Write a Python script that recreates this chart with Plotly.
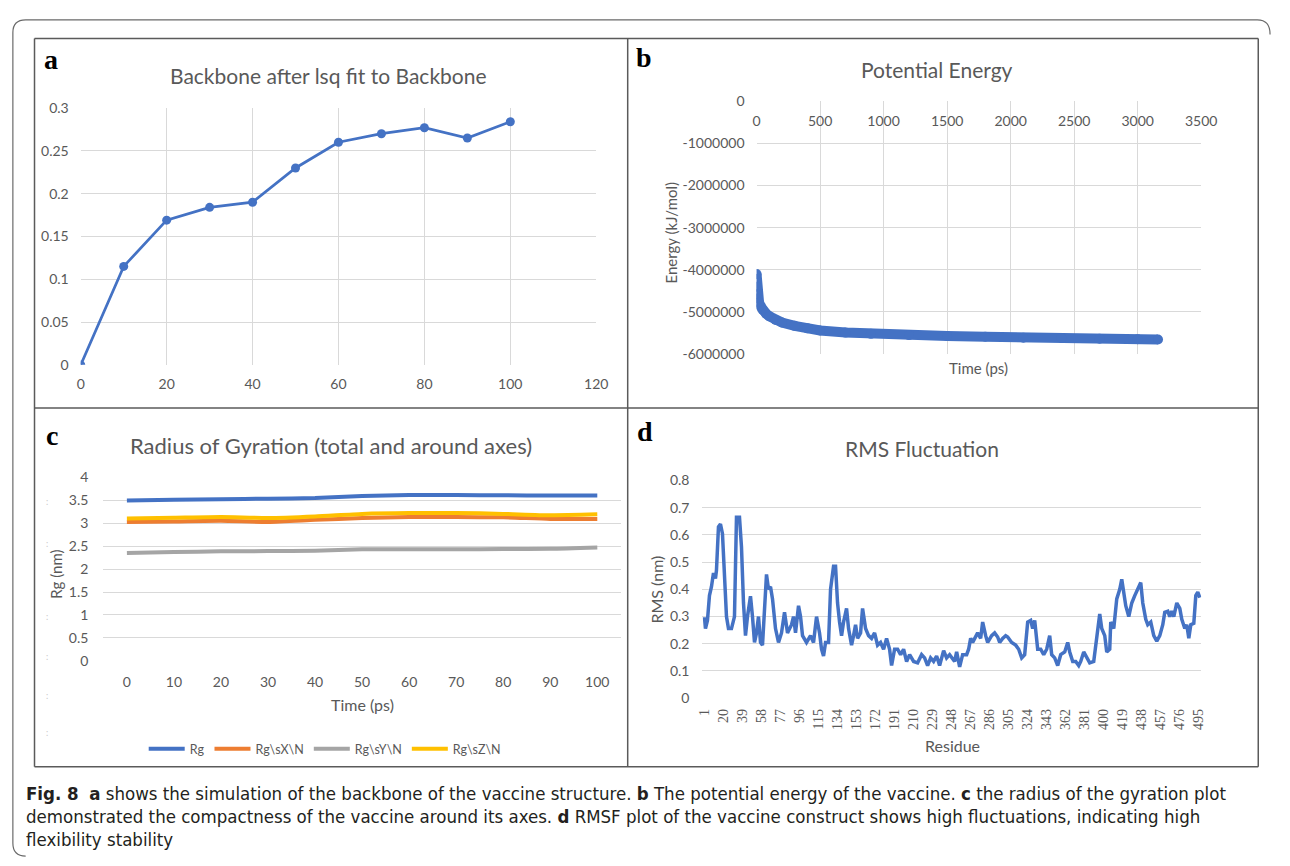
import plotly.graph_objects as go

W, H = 1290, 866


def px(x):
    return x / W


def py(y):
    return 1 - y / H


# ---------------- data ----------------
# (a) Backbone RMSD
a_time = [0, 10, 20, 30, 40, 50, 60, 70, 80, 90, 100]
a_rmsd = [0.0, 0.115, 0.169, 0.184, 0.19, 0.23, 0.26, 0.27, 0.277, 0.265, 0.284]

# (b) Potential energy
b_time = [0, 2, 5, 10, 20, 35, 50, 75, 100, 150, 200, 300, 400, 500, 700, 900,
          1200, 1500, 1800, 2100, 2400, 2700, 3000, 3160]
b_energy = [-4100000, -4400000, -4580000, -4680000, -4780000, -4880000, -4960000,
            -5040000, -5100000, -5190000, -5250000, -5330000, -5390000, -5440000,
            -5490000, -5520000, -5550000, -5570000, -5590000, -5610000, -5620000,
            -5635000, -5650000, -5655000]
b_yticks = [0, -1000000, -2000000, -3000000, -4000000, -5000000, -6000000]
b_yticklabels = ["0", "-1000000", "-2000000", "-3000000", "-4000000", "-5000000", "-6000000"]

# (c) Radius of gyration
c_time = [0, 10, 20, 30, 40, 50, 60, 70, 80, 90, 100]
c_rg = [3.49, 3.51, 3.52, 3.53, 3.545, 3.59, 3.61, 3.61, 3.605, 3.6, 3.6]
c_rgx = [3.025, 3.035, 3.05, 3.025, 3.07, 3.11, 3.13, 3.13, 3.125, 3.09, 3.09]
c_rgy = [2.35, 2.37, 2.385, 2.39, 2.4, 2.43, 2.43, 2.43, 2.435, 2.44, 2.47]
c_rgz = [3.1, 3.115, 3.13, 3.11, 3.145, 3.2, 3.22, 3.22, 3.2, 3.17, 3.19]
c_names = ["Rg", "Rg\\sX\\N", "Rg\\sY\\N", "Rg\\sZ\\N"]

# (d) RMS fluctuation
d_res = [1, 2, 4, 6, 8, 10, 12, 13, 15, 17, 19, 21, 23, 25, 28, 31, 33, 36, 38, 40,
         42, 44, 47, 49, 51, 53, 55, 57, 59, 63, 65, 67, 69, 72, 75, 78, 81, 84, 88, 90,
         92, 95, 97, 99, 103, 107, 110, 113, 116, 118, 120, 122, 125, 127, 130, 132, 134, 136, 138, 140,
         143, 145, 148, 150, 152, 154, 157, 159, 162, 165, 168, 171, 174, 177, 180, 183, 186, 188, 191, 194,
         197, 200, 203, 206, 210, 214, 218, 221, 224, 227, 230, 233, 236, 240, 243, 246, 251, 253, 256, 259,
         263, 265, 267, 269, 272, 274, 277, 279, 282, 284, 288, 291, 294, 296, 299, 302, 304, 308, 312, 315,
         318, 321, 324, 327, 329, 331, 334, 337, 340, 343, 346, 348, 351, 354, 357, 361, 364, 366, 369, 372,
         375, 377, 380, 383, 386, 390, 393, 396, 398, 401, 403, 406, 407, 410, 413, 416, 418, 420, 422, 425,
         428, 431, 435, 437, 439, 442, 444, 447, 450, 453, 456, 459, 461, 464, 466, 468, 470, 473, 476, 478,
         481, 483, 485, 487, 490, 492, 494, 496]
d_rms = [0.298, 0.256, 0.286, 0.377, 0.41, 0.46, 0.44, 0.47, 0.63, 0.64, 0.605, 0.47, 0.30, 0.256, 0.256, 0.30, 0.665, 0.665, 0.555, 0.35,
         0.23, 0.30, 0.375, 0.30, 0.205, 0.24, 0.30, 0.205, 0.195, 0.455, 0.40, 0.41, 0.365, 0.256, 0.205, 0.24, 0.316, 0.24, 0.27, 0.30,
         0.24, 0.34, 0.30, 0.23, 0.205, 0.23, 0.205, 0.30, 0.24, 0.18, 0.155, 0.205, 0.205, 0.40, 0.485, 0.485, 0.35, 0.28, 0.23, 0.28,
         0.33, 0.256, 0.195, 0.23, 0.27, 0.22, 0.24, 0.33, 0.256, 0.23, 0.22, 0.24, 0.195, 0.205, 0.18, 0.22, 0.18, 0.12, 0.18, 0.18,
         0.16, 0.18, 0.135, 0.16, 0.135, 0.13, 0.16, 0.148, 0.12, 0.148, 0.135, 0.155, 0.12, 0.175, 0.148, 0.16, 0.135, 0.17, 0.115, 0.16,
         0.16, 0.18, 0.22, 0.205, 0.23, 0.24, 0.22, 0.28, 0.23, 0.205, 0.23, 0.24, 0.225, 0.205, 0.22, 0.23, 0.225, 0.205, 0.195, 0.18,
         0.148, 0.16, 0.28, 0.286, 0.256, 0.286, 0.18, 0.18, 0.16, 0.18, 0.23, 0.16, 0.148, 0.12, 0.16, 0.17, 0.205, 0.17, 0.135, 0.135,
         0.12, 0.135, 0.17, 0.148, 0.13, 0.135, 0.23, 0.31, 0.256, 0.23, 0.17, 0.18, 0.28, 0.256, 0.365, 0.40, 0.437, 0.377, 0.34, 0.30,
         0.35, 0.377, 0.41, 0.425, 0.35, 0.29, 0.27, 0.28, 0.23, 0.21, 0.23, 0.27, 0.316, 0.32, 0.30, 0.32, 0.30, 0.35, 0.33, 0.29,
         0.256, 0.27, 0.22, 0.27, 0.275, 0.377, 0.39, 0.37]
d_ticks = [1, 20, 39, 58, 77, 96, 115, 134, 153, 172, 191, 210, 229, 248, 267, 286, 305,
           324, 343, 362, 381, 400, 419, 438, 457, 476, 495]
d_ticklabels = [str(v) for v in d_ticks]

# ---------------- style ----------------
BLUE = "#4472C4"
ORANGE = "#ED7D31"
GRAY = "#A5A5A5"
GOLD = "#FFC000"
GRID = "#d9d9d9"
TXT = "#595959"
SANS = "Lato, Carlito, sans-serif"
tickf = dict(family=SANS, size=14, color=TXT)

fig = go.Figure()

fig.add_trace(go.Scatter(x=a_time, y=a_rmsd, mode="lines+markers", xaxis="x", yaxis="y",
                         line=dict(color=BLUE, width=2.75), marker=dict(color=BLUE, size=9),
                         showlegend=False))

fig.add_trace(go.Scatter(x=b_time, y=b_energy, mode="lines+markers", xaxis="x2", yaxis="y2",
                         line=dict(color=BLUE, width=10), marker=dict(color=BLUE, size=10),
                         showlegend=False))

for ys, col, nm in zip([c_rg, c_rgx, c_rgy, c_rgz], [BLUE, ORANGE, GRAY, GOLD], c_names):
    fig.add_trace(go.Scatter(x=c_time, y=ys, mode="lines", xaxis="x3", yaxis="y3", name=nm,
                             line=dict(color=col, width=4, shape="spline", smoothing=0.6)))

fig.add_trace(go.Scatter(x=d_res, y=d_rms, mode="lines", xaxis="x4", yaxis="y4",
                         line=dict(color=BLUE, width=3.5), showlegend=False))

common = dict(showline=False, ticks="", zeroline=False, tickfont=tickf, gridcolor=GRID,
              gridwidth=1, fixedrange=True)

fig.update_layout(
    width=W, height=H, margin=dict(l=0, r=0, t=0, b=0),
    paper_bgcolor="white", plot_bgcolor="white",
    xaxis=dict(domain=[px(77), px(601)], range=[0, 120], dtick=20, tick0=0, anchor="y",
               showgrid=True, ticklabelstandoff=9, **common),
    yaxis=dict(domain=[py(363), py(101)], range=[0, 0.3], dtick=0.05, tick0=0, anchor="x",
               showgrid=True, ticklabelstandoff=11, **common),
    xaxis2=dict(domain=[px(764), px(1216)], range=[0, 3500], dtick=500, tick0=0, anchor="y2",
                side="top", ticklabelposition="inside", ticklabeloverflow="allow",
                showgrid=True, ticklabelstandoff=12, **common),
    yaxis2=dict(domain=[py(352), py(94)], range=[-6000000, 0], tickvals=b_yticks,
                ticktext=b_yticklabels, anchor="x2", showgrid=True, ticklabelstandoff=11, **common),
    xaxis3=dict(domain=[px(100), px(626)], range=[-5, 105], dtick=10, tick0=0, anchor="y3",
                showgrid=False, ticklabelstandoff=11, **common),
    yaxis3=dict(domain=[py(665), py(477.5)], range=[0, 4], dtick=0.5, tick0=0, anchor="x3",
                showgrid=True, ticklabelstandoff=14, **common),
    xaxis4=dict(domain=[px(709), px(1216)], range=[-1, 497.4], tickvals=d_ticks,
                ticktext=d_ticklabels, tickangle=-90, anchor="y4", showgrid=False,
                ticklabelstandoff=7,
                **{k: v for k, v in common.items() if k != "tickfont"},
                tickfont=dict(family="Liberation Serif, serif", size=14, color=TXT)),
    yaxis4=dict(domain=[py(703), py(481)], range=[0, 0.8], dtick=0.1, tick0=0, anchor="x4",
                showgrid=True, ticklabelstandoff=12, **common),
    legend=dict(orientation="h", x=px(141), y=py(755), xanchor="left", yanchor="middle",
                font=dict(family=SANS, size=12.5, color=TXT), bgcolor="rgba(0,0,0,0)",
                itemwidth=36),
)

ann = []


def txt(x, y, s, size, color=TXT, family=SANS, angle=0, xanchor="center"):
    ann.append(dict(x=px(x), y=py(y), xref="paper", yref="paper", text=s, showarrow=False,
                    xanchor=xanchor, yanchor="middle", textangle=angle,
                    font=dict(family=family, size=size, color=color)))


SERIF = "Liberation Serif, serif"
txt(47, 52, "<b>a</b>", 28, "#000000", SERIF)
txt(650, 49, "<b>b</b>", 28, "#000000", SERIF)
txt(48, 435, "<b>c</b>", 28, "#000000", SERIF)
txt(651, 431, "<b>d</b>", 28, "#000000", SERIF)

txt(329, 68, "Backbone after lsq fit to Backbone", 21)
txt(947, 62, "Potential Energy", 21)
txt(331, 445, "Radius of Gyration (total and around axes)", 22)
txt(932, 448, "RMS Fluctuation", 21)

txt(677, 228, "Energy (kJ/mol)", 15, angle=-90)
txt(990, 366, "Time (ps)", 15)
txt(52, 577, "Rg (nm)", 15, angle=-90)
txt(363, 709, "Time (ps)", 16)
txt(662, 592, "RMS (nm)", 16, angle=-90)
txt(963, 751, "Residue", 16)

for yy in [502, 545, 620, 660, 700, 738]:
    txt(43, yy, ":", 9, "#c8c8c8")

CAP = "Liberation Sans Narrow, DejaVu Sans Condensed, sans-serif"
CAPC = "#231f20"
txt(19, 800, "<b>Fig. 8</b>  <b>a</b> shows the simulation of the backbone of the vaccine structure. "
    "<b>b</b> The potential energy of the vaccine. <b>c</b> the radius of the gyration plot",
    18.5, CAPC, CAP, xanchor="left")
txt(19, 824, "demonstrated the compactness of the vaccine around its axes. <b>d</b> RMSF plot of the "
    "vaccine construct shows high fluctuations, indicating high", 18.5, CAPC, CAP, xanchor="left")
txt(19, 847, "flexibility stability", 18.5, CAPC, CAP, xanchor="left")

fig.update_layout(annotations=ann)

# frame lines
FR = "#5a5a5a"
shapes = []


def line(x0, y0, x1, y1, color=FR, width=1.5):
    shapes.append(dict(type="line", xref="paper", yref="paper", x0=px(x0), y0=py(y0),
                       x1=px(x1), y1=py(y1), line=dict(color=color, width=width)))


line(30, 30, 1274, 30)
line(30, 773, 1274, 773)
line(30, 30, 30, 773)
line(1274, 30, 1274, 773)
line(633, 30, 633, 773)
line(30, 407, 1274, 407)

# outer rounded border
r = 13
pts = (f"M {px(1286)},{py(26)} Q {px(1286)},{py(11)} {px(1286 - r)},{py(11)} "
       f"L {px(8 + r)},{py(11)} Q {px(8)},{py(11)} {px(8)},{py(11 + r)} "
       f"L {px(8)},{py(851)} Q {px(8)},{py(864)} {px(8 + r)},{py(864)}")
shapes.append(dict(type="path", xref="paper", yref="paper", path=pts,
                   line=dict(color="#6a6a6a", width=1.2)))

fig.update_layout(shapes=shapes)

fig.write_html("out.html", config={"displayModeBar": False})
